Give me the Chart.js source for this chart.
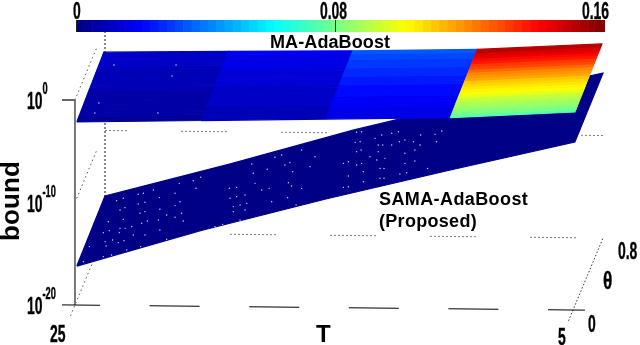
<!DOCTYPE html>
<html>
<head>
<meta charset="utf-8">
<script src="https://cdn.jsdelivr.net/npm/chart.js@4"></script>
<style>
  html, body { margin: 0; padding: 0; background: #fff; }
  #wrap { position: relative; width: 640px; height: 345px; overflow: hidden; }
  #plot { position: absolute; left: 0; top: 0; }
  #bar { position: absolute; left: 76px; top: 20px; }
  .lab { position: absolute; font-family: "Liberation Sans", sans-serif; color: #000; white-space: nowrap; line-height: 1; }
  .tick { font-size: 24px; font-weight: bold; transform: scaleX(0.58); transform-origin: left top; -webkit-text-stroke: 0.4px #000; }
  .tick span { font-size: 16px; position: relative; top: -15px; }
  .name { font-size: 18px; font-weight: bold; letter-spacing: 0.1px; }
</style>
</head>
<body>
<div id="wrap">
  <canvas id="plot" width="640" height="345"></canvas>
  <canvas id="bar" width="529" height="12"></canvas>
</div>
<script>
// grid of the two surfaces
const tValues = [25, 20, 15, 10, 5];
const thetaGrid = [0.05, 0.08, 0.11, 0.14, 0.17, 0.20, 0.23, 0.26, 0.29, 0.32, 0.35, 0.38, 0.41,
    0.44, 0.47, 0.50, 0.53, 0.56, 0.59, 0.62, 0.65, 0.68, 0.71, 0.74, 0.77];

const maT25 = [.0026, .0027, .0029, .0030, .0032, .0033, .0035, .0037, .0039, .0040, .0042, .0044, .0046,
    .0048, .0050, .0052, .0054, .0057, .0059, .0062, .0065, .0068, .0071, .0075, .0080];
const maT20 = [.0048, .0050, .0052, .0055, .0057, .0060, .0062, .0065, .0068, .0071, .0074, .0077, .0080,
    .0083, .0086, .0089, .0093, .0097, .0101, .0105, .0109, .0113, .0117, .0122, .0128];
const maT15 = [.0088, .0091, .0094, .0097, .0100, .0103, .0106, .0110, .0113, .0117, .0120, .0124, .0128,
    .0132, .0136, .0140, .0144, .0149, .0154, .0159, .0164, .0170, .0176, .0183, .0190];
const maT10 = [.0160, .0165, .0170, .0176, .0182, .0188, .0194, .0200, .0206, .0212, .0219, .0226, .0233,
    .0240, .0248, .0256, .0264, .0272, .0281, .0290, .0299, .0309, .0319, .0334, .0350];
const maT5 = [.076, .079, .082, .085, .088, .091, .094, .097, .100, .103, .106, .109, .112,
    .115, .118, .122, .126, .130, .134, .138, .142, .146, .150, .155, .160];

// SAMA-AdaBoost log10 bound along the two theta edges
const samaTheta = [0.05, 0.8];
const samaLogLow = [-16.64, -13.05, -9.85, -6.9, -4.05];
const samaLogHigh = [-16.39, -13.15, -9.7, -6.66, -3.9];

// tick labels
const boundTickExp = [0, -10, -20];
const colorTicks = [0, 0.08, 0.16];
const tTickLabels = [25, 5];
const thetaTickLabels = [0, 0.8];

// light specks in the surfaces, in axis units (T, log10 bound)
const speckT = [23.33, 23.06, 22.46, 22.25, 22.19, 22.46, 21.85, 21.61, 21.59, 20.98, 20.78, 20.98, 20.81, 20.25, 19.95, 20.14,
    23.19, 22.99, 22.39, 22.19, 21.65, 21.32, 20.72, 20.98, 20.65, 23.86, 23.66, 23.62, 23.19, 22.99, 23.06, 22.32, 22.09, 21.59, 22.72, 23.22,
    23.79, 23.49, 23.26, 23.03, 22.66, 22.19, 24.42, 23.75, 22.92, 22.36, 21.32, 23.53, 23.86, 24.66, 19.38, 19.07, 18.37,
    18.77, 18.51, 18.17, 18.64, 18.37, 18.1, 18.64, 18.17, 18.8, 18.51, 17.84, 17.77, 17.9,
    13.69, 13.49, 12.95, 12.68, 12.28, 12.01, 13.75, 13.55, 12.82, 12.64, 12.28, 11.97, 11.75, 11.41, 11.12, 10.54, 10.27, 10.48,
    13.69, 13.51, 12.82, 13.15, 12.55, 11.75, 11.35, 11.14, 14.22, 14.02, 13.69, 13.49, 12.88, 11.75, 11.35, 12.75, 12.59, 11.95, 11.68, 10.84,
    13.42, 14.02, 12.75, 12.59, 13.42, 14.22, 14.02, 17.28, 16.97, 16.7, 16.37, 16.57, 16.26, 15.9, 15.36, 15.56, 16.43, 16.3, 15.9, 17.5, 17.2, 17.1, 16.46, 16.12,
    23.43, 20.94, 21.1, 24.04, 24.2, 21.67];
const speckLog = [-9.82, -9.59, -9.2, -9.1, -9.98, -10.14, -8.78, -9.52, -10.66, -9.1, -9.92, -10.3, -8.13, -7.87, -7.54, -8.61,
    -10.73, -10.5, -11.05, -10.89, -11.7, -11.22, -11.05, -11.44, -11.8, -12.94, -11.87, -12.74, -12.52, -12.52, -11.64, -12.03, -11.8, -12.68, -12.35, -12.94,
    -13.82, -13.65, -13.91, -13.72, -13.17, -13.17, -14.3, -14.24, -14.63, -14.3, -13.59, -15.12, -15.28, -15.77, -12.35, -12.13, -11.7,
    -9.59, -9.43, -9.26, -10.4, -10.24, -10.08, -10.89, -10.73, -8.61, -8.52, -7.15, -8.13, -6.24,
    -3.15, -3.09, -3.74, -3.41, -3.25, -3.09, -4.13, -4.07, -4.39, -4.39, -4.39, -4.07, -3.9, -4.07, -3.41, -3.35, -3.02, -4.07,
    -5.04, -4.88, -5.04, -5.53, -5.69, -5.2, -4.88, -4.39, -6.18, -6.02, -6.34, -6.18, -5.85, -6.18, -5.95, -6.67, -6.67, -7.22, -7.09, -6.67,
    -6.99, -7.41, -7.64, -7.64, -7.97, -8.52, -8.46, -6.76, -5.59, -5.37, -6.11, -6.34, -6.99, -4.88, -5.53, -6.5, -8.07, -8.39, -8.62, -8.78, -8.62, -9.92, -9.53, -10.24,
    3.41, 3.41, 2.34, -0.29, -1.27, -1.27];

const maColumns = [maT25, maT20, maT15, maT10, maT5];
const colorMax = 0.163;

// matlab style jet, 64 levels
function jet(v) {
    const i = Math.min(63, Math.floor(v / colorMax * 64));
    const t = (i + 0.5) / 64;
    const c = x => Math.round(255 * Math.max(0, Math.min(1, 1.5 - Math.abs(4 * t - x))));
    return `rgb(${c(3)},${c(2)},${c(1)})`;
}

// oblique view: theta slides a point along the floor, T tilts it a little
function view(t, theta, logB) {
    return {
        x: t - theta * 1.506,
        y: logB + theta * 8.78 - (25 - t) * 0.0244
    };
}

const datasets = [];

function addLine(points, style) {
    datasets.push(Object.assign({
        data: points,
        showLine: true,
        pointRadius: 0,
        borderWidth: 1,
        borderColor: '#000',
        tension: 0,
        clip: false,
        order: 5000 - datasets.length
    }, style));
}

function addFace(points, color) {
    addLine(points.concat([points[0]]), {
        fill: 'shape',
        backgroundColor: color,
        borderColor: color,
        borderWidth: 1.2
    });
}

// dash of the grid: a run of dots then a long gap, 100px in all
const dottedRun = [];
for (let i = 0; i < 12; i++) dottedRun.push(2, 2);
dottedRun[dottedRun.length - 1] = 54;

// back wall
addLine([view(25, 0.8, -20), view(25, 0.8, 0)], { borderColor: '#888', borderWidth: 2, borderDash: [2, 2] });
addLine([view(25, 0.8, -20), view(5, 0.8, -20)], { borderColor: '#777', borderDash: dottedRun, borderDashOffset: 75 });
addLine([view(25, 0.8, -10), view(5, 0.8, -10)], { borderColor: '#777', borderDash: dottedRun, borderDashOffset: 24 });

// theta direction dotted lines
addLine([view(25, 0, 0), view(25, 0.6, 0)], { borderColor: '#555', borderDash: [1.5, 3] });
addLine([view(25, 0, -10), view(25, 0.57, -10)], { borderColor: '#555', borderDash: [1.5, 3] });
addLine([view(25, -0.12, -20), view(25, 0.47, -20)], { borderColor: '#555', borderDash: [1.5, 3] });
addLine([view(5, -0.12, -20), view(5, 0.8, -20)], { borderColor: '#333', borderDash: [1.5, 2] });

// front axis lines
addLine([view(25, 0, -20), view(25, 0, 0)], { borderColor: '#777', borderWidth: 2 });
addLine([view(25.52, 0, 0), view(25, 0, 0)], { borderColor: '#666', borderWidth: 2 });
addLine([view(25.52, 0, -20), view(4.52, 0, -20)], { borderDash: [50, 49.6], borderDashOffset: 12 });

// SAMA surface
const samaFace = [];
tValues.forEach((t, i) => samaFace.push(view(t, samaTheta[0], samaLogLow[i])));
for (let i = tValues.length - 1; i >= 0; i--) samaFace.push(view(tValues[i], samaTheta[1], samaLogHigh[i]));
addFace(samaFace, jet(0));

// MA surface, every cell flat shaded from its lower T, lower theta corner
for (let c = 0; c < tValues.length - 1; c++) {
    for (let r = 0; r < thetaGrid.length - 1; r++) {
        const left = maColumns[c];
        const right = maColumns[c + 1];
        addFace([
            view(tValues[c], thetaGrid[r], Math.log10(left[r])),
            view(tValues[c + 1], thetaGrid[r], Math.log10(right[r])),
            view(tValues[c + 1], thetaGrid[r + 1], Math.log10(right[r + 1])),
            view(tValues[c], thetaGrid[r + 1], Math.log10(left[r + 1]))
        ], jet(right[r]));
    }
}

datasets.push({
    data: speckT.map((t, i) => ({ x: t, y: speckLog[i] })),
    pointRadius: 0.7,
    pointBorderWidth: 0,
    pointBackgroundColor: '#d4d4f0',
    clip: false,
    order: 0
});

const plot = new Chart(document.getElementById('plot'), {
    type: 'scatter',
    data: { datasets: datasets },
    options: {
        responsive: false,
        animation: false,
        layout: { padding: 0, autoPadding: false },
        plugins: { legend: { display: false }, tooltip: { enabled: false } },
        scales: {
            x: { display: false, reverse: true, min: 2.31, max: 28.01 },
            y: { display: false, min: -23.9, max: 9.756 }
        }
    }
});

// colour bar
const barSteps = [];
const barColors = [];
for (let i = 0; i < 64; i++) {
    const v = (i + 0.5) / 64 * colorMax;
    barSteps.push({ x: v, y: 1 });
    barColors.push(jet(v));
}

const bar = new Chart(document.getElementById('bar'), {
    type: 'bar',
    data: {
        datasets: [{
            data: barSteps,
            backgroundColor: barColors,
            barPercentage: 1,
            categoryPercentage: 1
        }]
    },
    options: {
        responsive: false,
        animation: false,
        layout: { padding: 0, autoPadding: false },
        plugins: { legend: { display: false }, tooltip: { enabled: false } },
        scales: {
            x: {
                type: 'linear',
                min: 0,
                max: colorMax,
                offset: false,
                border: { display: false },
                grid: { color: '#222', z: 1, drawTicks: false, offset: false },
                ticks: { display: false, stepSize: 0.08, includeBounds: false }
            },
            y: { display: false, min: 0, max: 1 }
        }
    }
});

// real text labels over the canvases
const wrap = document.getElementById('wrap');

function addLabel(html, cls, left, top, extra) {
    const el = document.createElement('div');
    el.className = 'lab ' + cls;
    el.innerHTML = html;
    el.style.left = left + 'px';
    el.style.top = top + 'px';
    if (extra) Object.assign(el.style, extra);
    wrap.appendChild(el);
    return el;
}

boundTickExp.forEach(exp => {
    const y = plot.scales.y.getPixelForValue(exp);
    addLabel(`10<span>${exp}</span>`, 'tick', 27, y - 11);
});

colorTicks.forEach((v, i) => {
    const x = 76 + bar.scales.x.getPixelForValue(v);
    const width = [7, 32, 26][i];
    addLabel(String(v), 'tick', x - width / 2, -1.5);
});

addLabel(tTickLabels[0], 'tick', 50, 321.5);
addLabel(tTickLabels[1], 'tick', 558, 324.5);
addLabel(thetaTickLabels[0], 'tick', 588, 311.5);
addLabel(thetaTickLabels[1], 'tick', 618, 238.5);
addLabel('θ', 'tick', 603, 268.5, { transform: 'scaleX(0.72)' });

addLabel('MA-AdaBoost', 'name', 270, 33);
addLabel('SAMA-AdaBoost', 'name', 379, 190, { letterSpacing: '0.4px' });
addLabel('(Proposed)', 'name', 379, 212, { letterSpacing: '0.3px' });
addLabel('T', 'name', 316, 322, { fontSize: '24px' });
addLabel('bound', 'name', 36, 240, {
    fontSize: '26px',
    transform: 'rotate(-90deg)',
    transformOrigin: 'left top',
    left: '-3px',
    top: '241px'
});
</script>
</body>
</html>
